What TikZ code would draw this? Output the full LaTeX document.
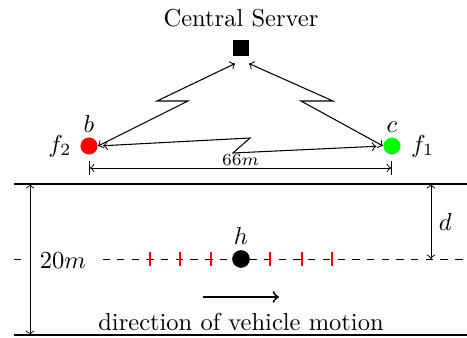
\documentclass[tikz,border=0pt]{standalone}
\usetikzlibrary{calc}
\begin{document}
\begin{tikzpicture}[x=0.408pt,y=-0.408pt,
  dev/.style={circle,inner sep=0pt,minimum size=6.95pt},
  srvbox/.style={rectangle,fill=black,inner sep=0pt,minimum size=6.6pt},
  link/.style={<->,line width=0.43pt},
  road/.style={line width=0.86pt},
  dimline/.style={line width=0.4pt},
  tickmark/.style={red,line width=0.67pt}]
\useasboundingbox (0,0) rectangle (467,338);
% server
\node (title) at (241,18) {Central Server};
\node[srvbox] (srv) at (241,48) {};
% devices
\node[dev,fill=red,label={[label distance=-1.8pt]above:$b$},label={[label distance=0pt]left:$f_2$}] (b) at (89,146) {};
\node[dev,fill=green,label={[label distance=-1.8pt]above:$c$},label={[label distance=0.6pt]right:$f_1$}] (c) at (392,146) {};
% wireless links
\draw[link] (b.east) -- (188,101) -- (157,101) -- ([shift={(-6,7)}]srv.south);
\draw[link] ([shift={(8,7)}]srv.south) -- (333,101) -- (301,101) -- (c.west);
\draw[link,shorten <=2.1pt,shorten >=2.7pt] (b.east) -- (250,138) -- (233,153) -- (c.west);
% 66m dimension
\coordinate (dim) at (0,168);
\draw[dimline,|<->|] (b |- dim) -- node[above,font=\scriptsize,inner sep=1pt] (dlab) {$66m$} (c |- dim);
% road
\coordinate (rtl) at (14,184);
\coordinate (rtr) at (467,184);
\coordinate (rbl) at (14,335);
\coordinate (rbr) at (467,335);
\draw[road] (rtl) -- (rtr);
\draw[road] (rbl) -- (rbr);
% centre dashed line
\coordinate (cl) at (14,259);
\coordinate (cr) at (467,259);
\draw[dashed,line width=0.4pt] (cl) -- (cr);
\node[fill=white,inner xsep=7pt] (wlab) at (63,261) {$20m$};
% 20m arrow
\coordinate (wt) at (30,184);
\coordinate (wb) at (30,335);
\draw[dimline,<->] (wt) -- (wb);
% d arrow
\coordinate (dt) at (431,184);
\coordinate (db) at (431,259);
\draw[dimline,<->] (dt) -- node[right,inner sep=3pt] (dl) {$d$} (db);
% ticks
\foreach \x in {150,180,211,270,302,332}
  \draw[tickmark] (\x,252.5) -- (\x,266);
% vehicle
\node[dev,fill=black,minimum size=7.2pt,label={[label distance=-1.5pt]above:$h$}] (h) at (241,259) {};
% direction
\coordinate (ds) at (203,297);
\coordinate (de) at (279,297);
\draw[->,line width=0.8pt] (ds) -- (de);
\node (dir) at (241,322) {direction of vehicle motion};
\end{tikzpicture}
\end{document}
